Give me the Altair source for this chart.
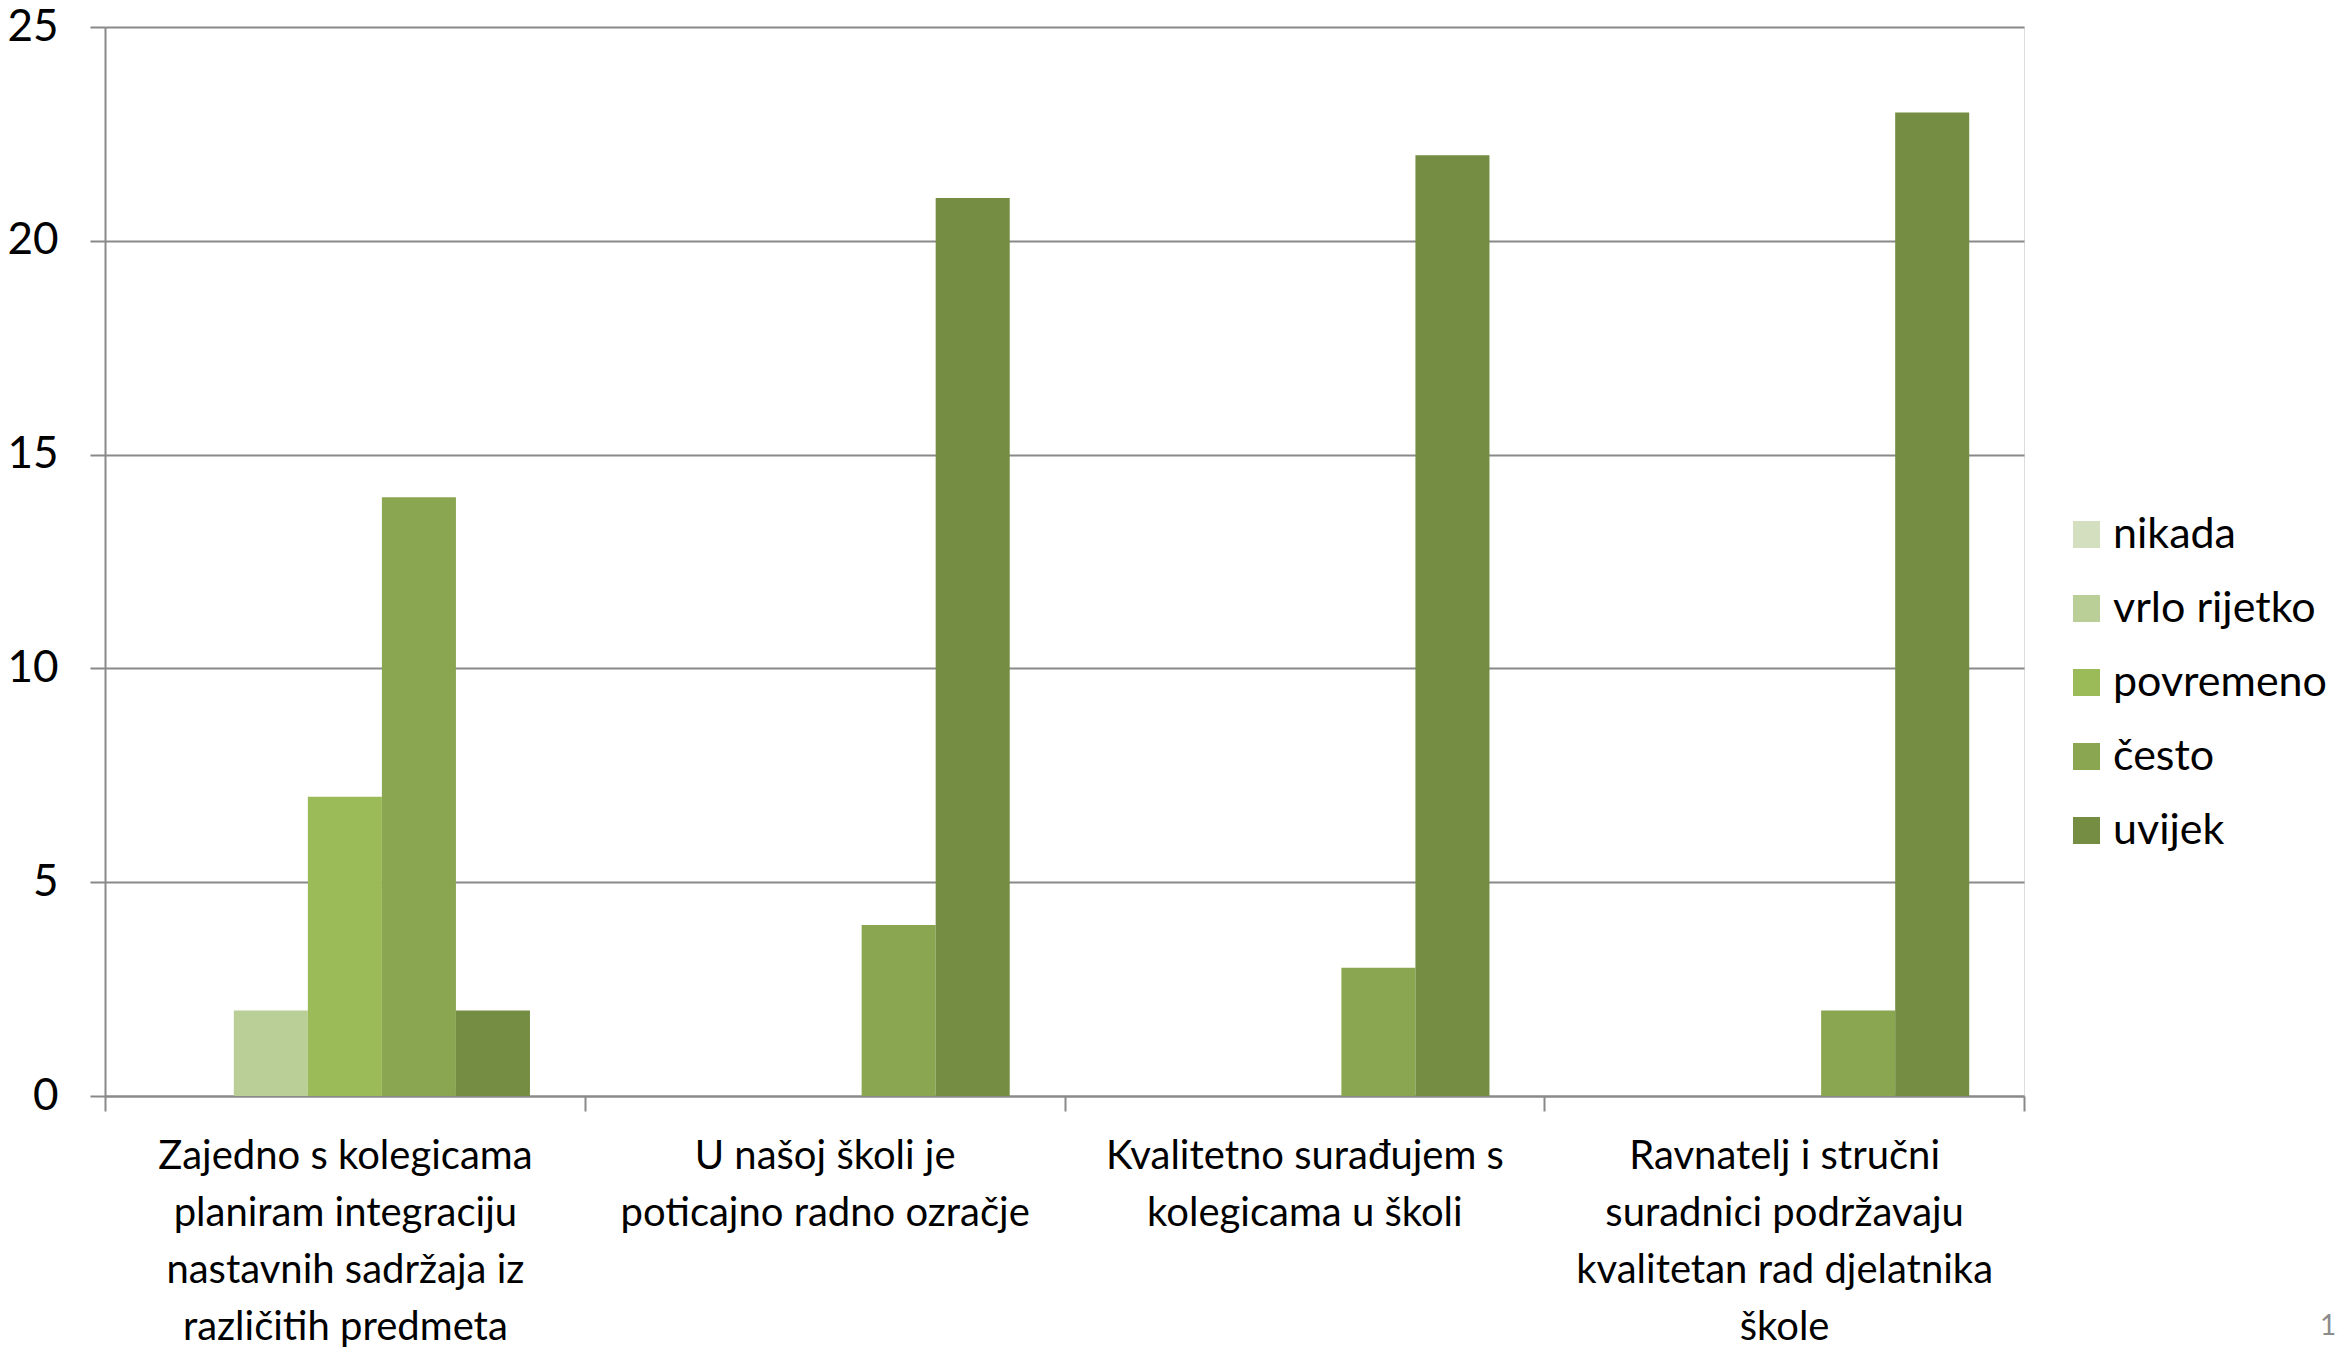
import altair as alt
import pandas as pd

categories = [
    "Zajedno s kolegicama|planiram integraciju|nastavnih sadržaja iz|različitih predmeta",
    "U našoj školi je|poticajno radno ozračje",
    "Kvalitetno surađujem s|kolegicama u školi",
    "Ravnatelj i stručni|suradnici podržavaju|kvalitetan rad djelatnika|škole",
]
series = ["nikada", "vrlo rijetko", "povremeno", "često", "uvijek"]
colors = ["#D3DFBF", "#BACE97", "#9BBB59", "#8AA650", "#748D42"]

nikada = [0, 0, 0, 0]
vrlo_rijetko = [2, 0, 0, 0]
povremeno = [7, 0, 0, 0]
cesto = [14, 4, 3, 2]
uvijek = [2, 21, 22, 23]

values = [nikada, vrlo_rijetko, povremeno, cesto, uvijek]
rows = []
for s, vals in zip(series, values):
    for c, v in zip(categories, vals):
        rows.append({"kategorija": c, "odgovor": s, "broj": v})
df = pd.DataFrame(rows)

FONT = "Lato"
GRID = "#898989"

bars = alt.Chart(df).mark_bar(stroke=None).encode(
    x=alt.X("kategorija:N", sort=categories, title=None,
            scale=alt.Scale(paddingInner=0, paddingOuter=0),
            axis=alt.Axis(labelExpr="split(datum.label, '|')", labelAngle=0,
                          labelFontSize=40, labelLineHeight=57, labelPadding=25,
                          labelColor="#000000", labelFont=FONT, labelLimit=0,
                          tickBand="extent", tickSize=15, tickColor=GRID, tickWidth=2,
                          domainColor=GRID, domainWidth=2, grid=False)),
    xOffset=alt.XOffset("odgovor:N", sort=series,
                        scale=alt.Scale(paddingInner=0, paddingOuter=0.74)),
    y=alt.Y("broj:Q", title=None,
            scale=alt.Scale(domain=[0, 25], nice=False),
            axis=alt.Axis(values=[0, 5, 10, 15, 20, 25], labelFontSize=44,
                          labelFont=FONT, labelColor="#000000", labelPadding=32,
                          tickSize=15, tickColor=GRID, tickWidth=2,
                          domainColor=GRID, domainWidth=2,
                          grid=True, gridColor=GRID, gridWidth=2)),
    color=alt.Color("odgovor:N", sort=series,
                    scale=alt.Scale(domain=series, range=colors),
                    legend=alt.Legend(title=None, orient="none", legendX=1960, legendY=486,
                                      symbolType="square", symbolSize=729,
                                      symbolStrokeWidth=0, labelFontSize=43,
                                      labelFont=FONT, labelColor="#000000",
                                      labelOffset=5, rowPadding=30, padding=0,
                                      labelLimit=0)),
)

page = alt.Chart(pd.DataFrame({"t": ["15"]})).mark_text(
    font=FONT, fontSize=28, color="#8C8C8C", align="left", baseline="middle"
).encode(x=alt.value(2215), y=alt.value(1300), text="t:N")

chart = alt.layer(bars, page).properties(
    width=1919, height=1069,
    autosize=alt.AutoSizeParams(type="none"),
    padding={"left": 97, "top": 19, "right": 314, "bottom": 252},
).configure_view(stroke=None).configure(background="#FFFFFF")

chart.save("out.html", embed_options={"renderer": "svg", "actions": False})
